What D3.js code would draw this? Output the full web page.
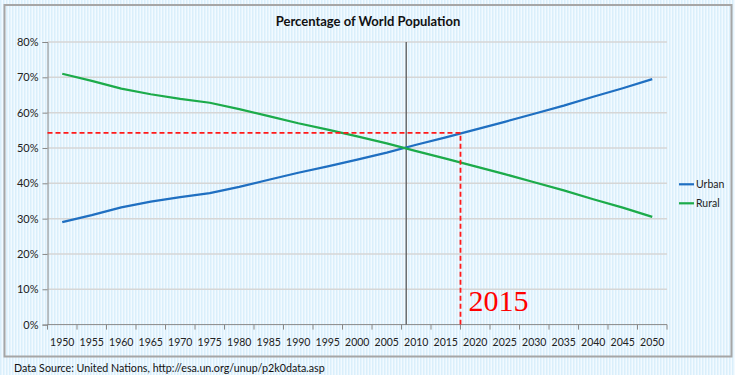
<!DOCTYPE html>
<html>
<head>
<meta charset="utf-8">
<script src="https://cdn.jsdelivr.net/npm/d3@7"></script>
<style>
  html, body { margin: 0; padding: 0; background: #fff; }
  svg { display: block; font-family: Lato, "Open Sans", sans-serif; }
</style>
</head>
<body>
<div id="chart"></div>
<script>
// Percentage of World Population - urban vs rural

const years = [1950, 1955, 1960, 1965, 1970, 1975, 1980, 1985, 1990, 1995, 2000,
               2005, 2010, 2015, 2020, 2025, 2030, 2035, 2040, 2045, 2050];
const urban = [29.0, 31.0, 33.2, 34.8, 36.1, 37.2, 39.0, 41.0, 43.0, 44.8, 46.7,
               48.7, 50.9, 53.0, 55.2, 57.4, 59.7, 62.0, 64.5, 66.9, 69.5];
const rural = [71.0, 69.0, 66.8, 65.2, 63.9, 62.8, 61.0, 59.0, 57.0, 55.2, 53.3,
               51.3, 49.1, 47.0, 44.8, 42.6, 40.3, 38.0, 35.5, 33.1, 30.5];
const yTicks = [0, 10, 20, 30, 40, 50, 60, 70, 80];
const seriesNames = ["Urban", "Rural"];
const seriesColors = ["#1f6fc1", "#1cab4a"];

// annotation: year urban passes 50%, and the marked point
const crossYear = 2008.3;
const markYear = 2017.5;
const markPct = 54.3;
const markLabel = "2015";

const width = 735, height = 375;
const plot = { left: 47.5, right: 667, top: 42, bottom: 324.6 };

const svg = d3.select("#chart").append("svg")
    .attr("width", width)
    .attr("height", height);

// striped background
const defs = svg.append("defs");
const pat = defs.append("pattern")
    .attr("id", "stripes")
    .attr("width", 3).attr("height", 10)
    .attr("patternUnits", "userSpaceOnUse");
pat.append("rect").attr("width", 3).attr("height", 10).attr("fill", "#f2faff");
pat.append("rect").attr("width", 1.5).attr("height", 10).attr("fill", "#daeffb");

svg.append("rect")
    .attr("width", width).attr("height", height)
    .attr("fill", "url(#stripes)");

// chart frame
svg.append("rect")
    .attr("x", 4.5).attr("y", 5)
    .attr("width", 727).attr("height", 351.5)
    .attr("fill", "none")
    .attr("stroke", "#a6a6a6")
    .attr("stroke-width", 2);

const x = d3.scaleBand()
    .domain(years)
    .range([plot.left, plot.right]);

// continuous year -> x through band centres
const xYear = d3.scaleLinear()
    .domain([years[0], years[years.length - 1]])
    .range([x(years[0]) + x.bandwidth() / 2, x(years[years.length - 1]) + x.bandwidth() / 2]);

const y = d3.scaleLinear()
    .domain([0, 80])
    .range([plot.bottom, plot.top]);

// gridlines
svg.append("g")
    .selectAll("line")
    .data(yTicks.filter(d => d > 0))
    .join("line")
    .attr("x1", plot.left).attr("x2", plot.right)
    .attr("y1", d => y(d)).attr("y2", d => y(d))
    .attr("stroke", "#d6d6d6")
    .attr("stroke-width", 1.5);

// y axis
const yAxis = svg.append("g")
    .attr("transform", `translate(${plot.left},0)`)
    .call(d3.axisLeft(y).tickValues(yTicks).tickFormat(d => d + "%").tickSize(5).tickPadding(4));
yAxis.select(".domain").attr("stroke", "#888").attr("stroke-width", 1);
yAxis.selectAll(".tick line").attr("stroke", "#888");
yAxis.selectAll("text").attr("font-size", 11).attr("fill", "#222")
    .attr("font-family", "Lato, sans-serif");

// x axis with ticks on band edges
const xAxis = svg.append("g")
    .attr("transform", `translate(0,${plot.bottom})`);
xAxis.append("line")
    .attr("x1", plot.left).attr("x2", plot.right)
    .attr("stroke", "#888");
xAxis.selectAll(".tk")
    .data(years.concat(["end"]))
    .join("line")
    .attr("class", "tk")
    .attr("x1", (d, i) => plot.left + i * x.step())
    .attr("x2", (d, i) => plot.left + i * x.step())
    .attr("y1", 0).attr("y2", 5)
    .attr("stroke", "#888");
xAxis.selectAll("text")
    .data(years)
    .join("text")
    .attr("x", d => x(d) + x.bandwidth() / 2)
    .attr("y", 21)
    .attr("text-anchor", "middle")
    .attr("font-size", 10.5)
    .attr("fill", "#222")
    .text(d => d);

// vertical line where urban reaches 50%
svg.append("line")
    .attr("x1", xYear(crossYear)).attr("x2", xYear(crossYear))
    .attr("y1", plot.top).attr("y2", plot.bottom)
    .attr("stroke", "#5a5a5a")
    .attr("stroke-width", 1.3);

// series lines
const line = d3.line()
    .x((d, i) => x(years[i]) + x.bandwidth() / 2)
    .y(d => y(d));

[urban, rural].forEach((vals, k) => {
    svg.append("path")
        .datum(vals)
        .attr("d", line)
        .attr("fill", "none")
        .attr("stroke", seriesColors[k])
        .attr("stroke-width", 2.2)
        .attr("stroke-linejoin", "round");
});

// red dashed marker
const mx = xYear(markYear), my = y(markPct);
svg.append("path")
    .attr("d", `M${plot.left},${my}H${mx}V${plot.bottom}`)
    .attr("fill", "none")
    .attr("stroke", "#ff1a1a")
    .attr("stroke-width", 1.8)
    .attr("stroke-dasharray", "5,3");

svg.append("text")
    .attr("x", mx + 8)
    .attr("y", plot.bottom - 13.5)
    .attr("font-family", "'Liberation Serif', 'DejaVu Serif', serif")
    .attr("font-size", 30)
    .attr("fill", "#ff0000")
    .text(markLabel);

// legend
const legend = svg.append("g");
seriesNames.forEach((name, k) => {
    const ly = 184.3 + k * 19;
    legend.append("line")
        .attr("x1", 679).attr("x2", 694)
        .attr("y1", ly).attr("y2", ly)
        .attr("stroke", seriesColors[k])
        .attr("stroke-width", 2.2);
    legend.append("text")
        .attr("x", 696)
        .attr("y", ly + 4)
        .attr("font-size", 10.5)
        .attr("fill", "#222")
        .text(name);
});

// title
svg.append("text")
    .attr("x", 368)
    .attr("y", 26)
    .attr("text-anchor", "middle")
    .attr("font-size", 13)
    .attr("font-weight", "bold")
    .attr("fill", "#111")
    .text("Percentage of World Population");

// source note
svg.append("text")
    .attr("x", 14)
    .attr("y", 372)
    .attr("font-size", 10.7)
    .attr("fill", "#111")
    .text("Data Source: United Nations, http://esa.un.org/unup/p2k0data.asp");
</script>
</body>
</html>
